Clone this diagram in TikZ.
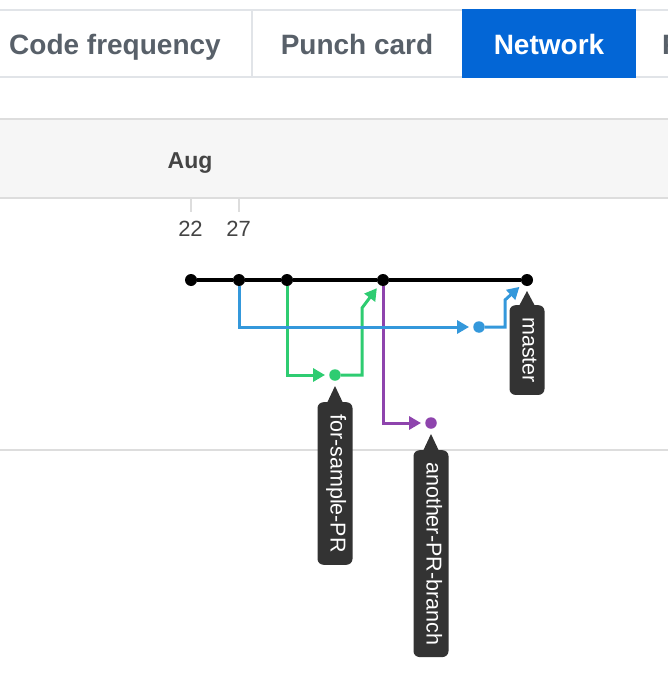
\documentclass[tikz,border=0pt]{standalone}
\usepackage{fontspec}
\setmainfont{Liberation Sans}
\usepackage{tikz}
\usetikzlibrary{arrows.meta,calc,positioning}
\definecolor{tabline}{HTML}{E1E4E8}
\definecolor{tabtext}{HTML}{586069}
\definecolor{tabblue}{HTML}{0366D6}
\definecolor{bandfill}{HTML}{F6F6F6}
\definecolor{bandline}{HTML}{DDDDDD}
\definecolor{datetext}{HTML}{444444}
\definecolor{brblue}{HTML}{3498DB}
\definecolor{brgreen}{HTML}{2ECC71}
\definecolor{brpurple}{HTML}{8E44AD}
\definecolor{tagfill}{HTML}{333333}

\begin{document}
\begin{tikzpicture}[x=1pt, y=-1pt,
		tab/.style={anchor=base, inner sep=0pt, text=tabtext, font=\fontsize{28}{30}\selectfont\bfseries},
		datelabel/.style={anchor=base, inner sep=0pt, text=datetext, font=\fontsize{22}{24}\selectfont},
		commit/.style={circle, fill=black, minimum size=12pt, inner sep=0pt},
		tipdot/.style={circle, fill=#1, minimum size=11.5pt, inner sep=0pt},
		branch/.style={draw=#1, line width=3pt, ->, shorten >=4pt},
		tag/.style={rotate=-90, anchor=west, fill=tagfill, text=white, rounded corners=6pt,
			font=\fontsize{21.5}{21.5}\selectfont, text height=14pt, text depth=5pt,
			inner xsep=12pt, inner ysep=8pt},
		>={Triangle[length=12pt,width=13pt]}
		]
	
		\useasboundingbox (0,0) rectangle (668,690);
	
		% --- Onglets ---
		\draw[tabline, line width=2pt] (0,10) -- (668,10);
		\draw[tabline, line width=2pt] (0,77) -- (668,77);
		\draw[tabline, line width=2pt] (252,10) -- (252,77);
		\fill[tabblue] (462,9) rectangle (636,78);
		\node[tab, anchor=base west] (codefreq) at (9,54.5) {Code frequency};
		\node[tab] (punch) at (357,54.5) {Punch card};
		\node[tab, text=white] (network) at (549,54.5) {Network};
		\begin{scope}
			\clip (0,0) rectangle (668,690);
			\node[tab, anchor=base west] (forks) at (662,54.5) {Forks};
		\end{scope}
	
		% --- Bandeau des dates ---
		\fill[bandfill] (0,119) rectangle (668,198);
		\draw[bandline, line width=2pt] (0,119) -- (668,119);
		\draw[bandline, line width=2pt] (0,198) -- (668,198);
		\draw[bandline, line width=2pt] (0,450) -- (668,450);
		\node[datelabel, font=\fontsize{23}{24}\selectfont\bfseries] (aug) at (190,168) {Aug};
		\draw[bandline, line width=1.5pt] (191,198) -- (191,212);
		\draw[bandline, line width=1.5pt] (239,198) -- (239,212);
		\node[datelabel] (d22) at (190.5,236.5) {22};
		\node[datelabel] (d27) at (238.5,236.5) {27};
	
		% --- Commits ---
		\node[commit] (c1) at (191,280) {};
		\node[commit] (c2) at (239,280) {};
		\node[commit] (c3) at (287,280) {};
		\node[commit] (c4) at (383,280) {};
		\node[commit] (c5) at (527,280) {};
		\node[tipdot=brblue] (bdot) at (479,327) {};
		\node[tipdot=brgreen] (gdot) at (335,375) {};
		\node[tipdot=brpurple] (pdot) at (431,423) {};
	
		\coordinate (gturn) at (362,375);
		\coordinate (gbend) at (362,308);
		\coordinate (bturn) at (505,327);
		\coordinate (bbend) at (505,300);
	
		% Branche principale
		\draw[line width=3.5pt] (c1) -- (c2) -- (c3) -- (c4) -- (c5);
	
		% Branches
		\draw[branch=brpurple] (c4) |- (pdot);
		\draw[branch=brgreen] (c3) |- (gdot);
		\draw[branch=brgreen] (gdot) -- (gturn) -- (gbend) -- (c4);
		\draw[branch=brblue] (c2) |- (bdot);
		\draw[branch=brblue] (bdot) -- (bturn) -- (bbend) -- (c5);
	
		% Etiquettes
		\node[tag] (mastertag) at ($(c5)+(0,25)$) {master};
		\node[tag] (sampletag) at ($(gdot)+(0,27)$) {for-sample-PR};
		\node[tag] (anothertag) at ($(pdot)+(0,27)$) {another-PR-branch};
		\fill[tagfill] ($(mastertag.west)+(-8,1)$) -- ($(c5)+(0,11)$) -- ($(mastertag.west)+(8,1)$) -- cycle;
		\fill[tagfill] ($(sampletag.west)+(-8,1)$) -- ($(gdot)+(0,11)$) -- ($(sampletag.west)+(8,1)$) -- cycle;
		\fill[tagfill] ($(anothertag.west)+(-8,1)$) -- ($(pdot)+(0,11)$) -- ($(anothertag.west)+(8,1)$) -- cycle;
	
	\end{tikzpicture}
\end{document}
